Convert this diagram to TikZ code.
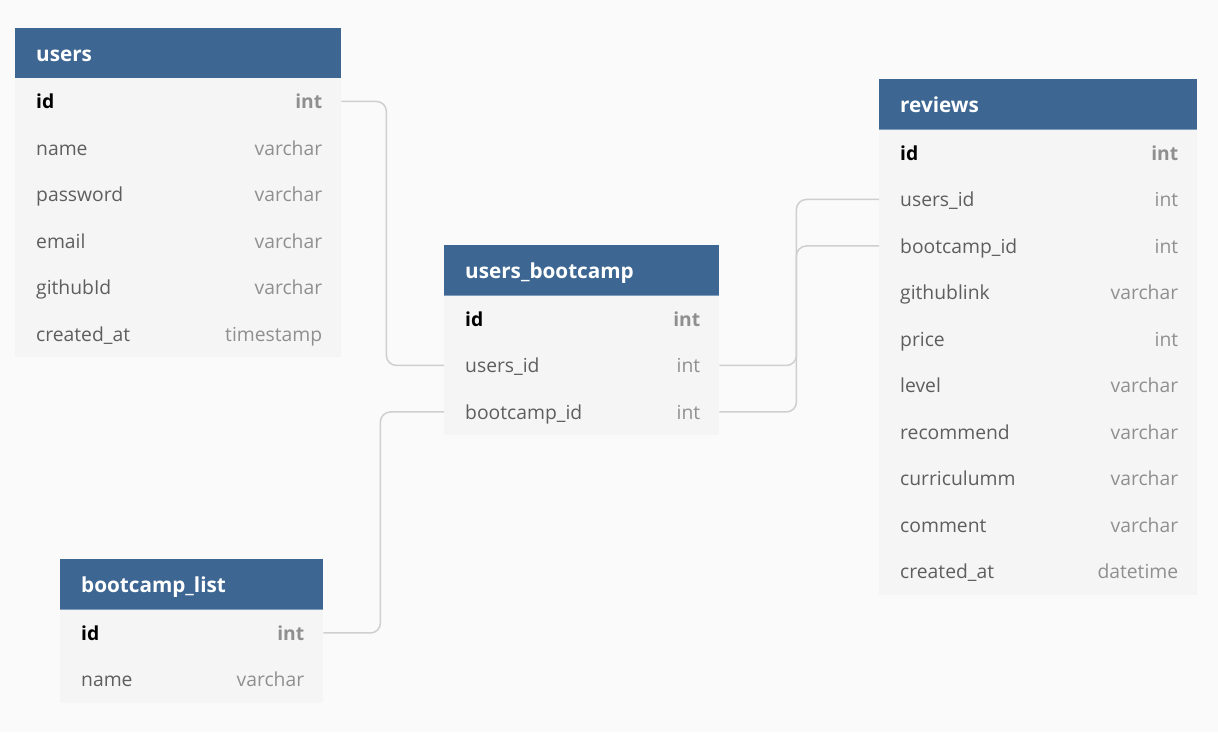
\documentclass[tikz,border=0pt]{standalone}
\usepackage{fontspec}
\setmainfont{Open Sans}
\usetikzlibrary{calc}
\definecolor{hdr}{HTML}{3D6792}
\definecolor{hdrline}{HTML}{7F9CBB}
\definecolor{rowbg}{HTML}{F5F5F5}
\definecolor{pagebg}{HTML}{FAFAFA}
\definecolor{fldtxt}{HTML}{5E5E5E}
\definecolor{typtxt}{HTML}{8F8F8F}
\definecolor{conncol}{HTML}{CFCFCF}
\tikzset{
  hdrbox/.style={fill=hdr, draw=none, anchor=north west, inner sep=0pt},
  rowbox/.style={fill=rowbg, draw=none, anchor=north west, inner sep=0pt},
  hdrtxt/.style={text=white, font=\fontsize{20.7}{24}\selectfont\bfseries, anchor=base west, inner sep=0pt},
  fldtxt/.style={text=fldtxt, font=\fontsize{19.3}{23}\selectfont, anchor=base west, inner sep=0pt},
  typtxt/.style={text=typtxt, font=\fontsize{19.3}{23}\selectfont, anchor=base east, inner sep=0pt},
  pktxt/.style={text=black, font=\fontsize{19.3}{23}\selectfont\bfseries, anchor=base west, inner sep=0pt},
  pktyp/.style={text=typtxt, font=\fontsize{19.3}{23}\selectfont\bfseries, anchor=base east, inner sep=0pt},
  conn/.style={draw=conncol, line width=1.5pt, rounded corners=10pt},
}
% #1 name, #2 x, #3 y, #4 width, #5 title
\newcommand\ertheader[5]{%
  \node[hdrbox, minimum width=#4, minimum height=50] (#1) at (#2,#3) {};
  \draw[hdrline, line width=1pt] (#1.south west) -- (#1.south east);
  \node[hdrtxt] (#1-t) at ($(#1.west)+(21,8)$) {#5};
}
% #1 name, #2 x, #3 y, #4 width, #5 field, #6 type, #7 field style, #8 type style
\newcommand\ertrow[8]{%
  \node[rowbox, minimum width=#4, minimum height=46.5] (#1) at (#2,#3) {};
  \node[#7] (#1-f) at ($(#1.west)+(21,7.5)$) {#5};
  \node[#8] (#1-y) at ($(#1.east)+(-19,7.5)$) {#6};
}
\begin{document}
\begin{tikzpicture}[x=1pt,y=-1pt]
\fill[pagebg] (0,0) rectangle (1218,732);
\useasboundingbox (0,0) rectangle (1218,732);
% users
\ertheader{u}{15}{28}{326}{users}
\ertrow{u1}{15}{78}{326}{id}{int}{pktxt}{pktyp}
\ertrow{u2}{15}{124.5}{326}{name}{varchar}{fldtxt}{typtxt}
\ertrow{u3}{15}{171}{326}{password}{varchar}{fldtxt}{typtxt}
\ertrow{u4}{15}{217.5}{326}{email}{varchar}{fldtxt}{typtxt}
\ertrow{u5}{15}{264}{326}{githubId}{varchar}{fldtxt}{typtxt}
\ertrow{u6}{15}{310.5}{326}{created\_at}{timestamp}{fldtxt}{typtxt}
% users_bootcamp
\ertheader{b}{444}{245}{275}{users\_bootcamp}
\ertrow{b1}{444}{295.5}{275}{id}{int}{pktxt}{pktyp}
\ertrow{b2}{444}{342}{275}{users\_id}{int}{fldtxt}{typtxt}
\ertrow{b3}{444}{388.5}{275}{bootcamp\_id}{int}{fldtxt}{typtxt}
% reviews
\ertheader{r}{879}{79}{318}{reviews}
\ertrow{r1}{879}{129.5}{318}{id}{int}{pktxt}{pktyp}
\ertrow{r2}{879}{176}{318}{users\_id}{int}{fldtxt}{typtxt}
\ertrow{r3}{879}{222.5}{318}{bootcamp\_id}{int}{fldtxt}{typtxt}
\ertrow{r4}{879}{269}{318}{githublink}{varchar}{fldtxt}{typtxt}
\ertrow{r5}{879}{315.5}{318}{price}{int}{fldtxt}{typtxt}
\ertrow{r6}{879}{362}{318}{level}{varchar}{fldtxt}{typtxt}
\ertrow{r7}{879}{408.5}{318}{recommend}{varchar}{fldtxt}{typtxt}
\ertrow{r8}{879}{455}{318}{curriculumm}{varchar}{fldtxt}{typtxt}
\ertrow{r9}{879}{501.5}{318}{comment}{varchar}{fldtxt}{typtxt}
\ertrow{r10}{879}{548}{318}{created\_at}{datetime}{fldtxt}{typtxt}
% bootcamp_list
\ertheader{l}{60}{559}{263}{bootcamp\_list}
\ertrow{l1}{60}{609.5}{263}{id}{int}{pktxt}{pktyp}
\ertrow{l2}{60}{656}{263}{name}{varchar}{fldtxt}{typtxt}
% connectors
\draw[conn] (u1.east) -- ++(45,0) |- (b2.west);
\draw[conn] (l1.east) -- ++(57,0) |- (b3.west);
\draw[conn] (b2.east) -- ++(77,0) |- (r2.west);
\draw[conn] (b3.east) -- ++(77,0) |- (r3.west);
\end{tikzpicture}
\end{document}
